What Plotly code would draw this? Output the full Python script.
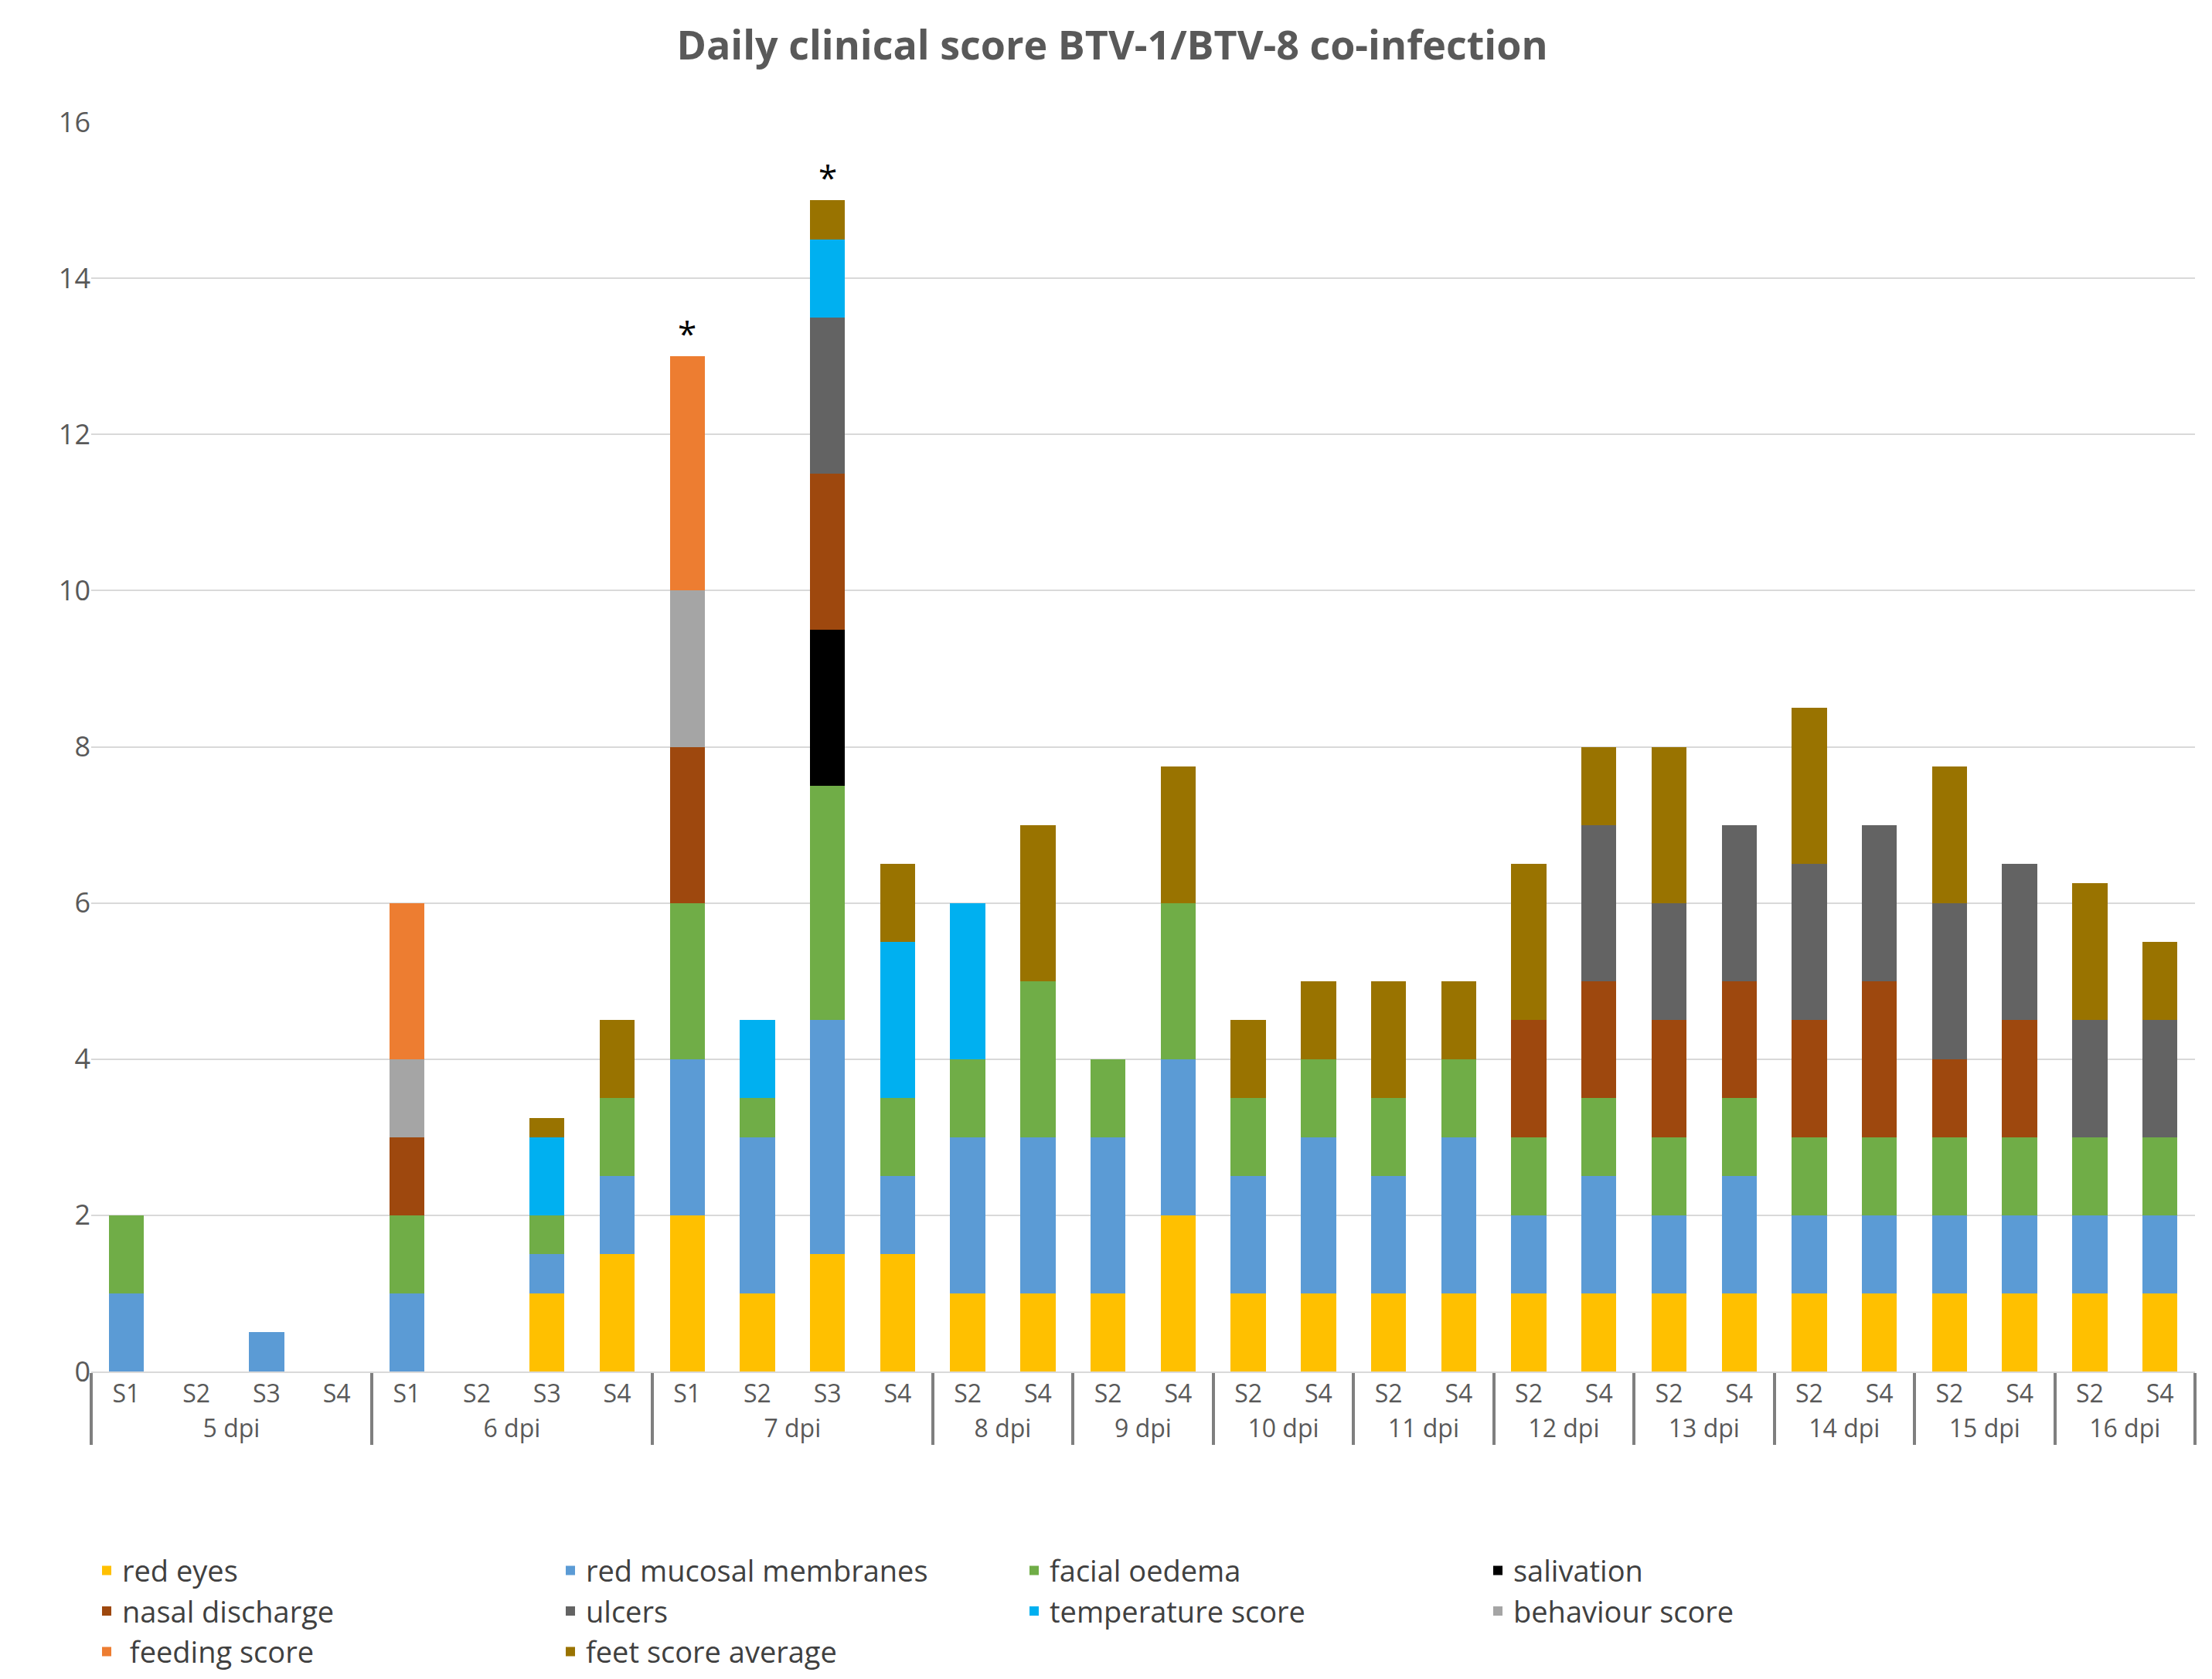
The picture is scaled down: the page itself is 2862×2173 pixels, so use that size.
import plotly.graph_objects as go

days = ["5 dpi"] * 4 + ["6 dpi"] * 4 + ["7 dpi"] * 4 + [f"{d} dpi" for d in range(8, 17) for _ in (0, 1)]
sheep = ["S1", "S2", "S3", "S4"] * 3 + ["S2", "S4"] * 9

red_eyes = [0, 0, 0, 0, 0, 0, 1, 1.5, 2, 1, 1.5, 1.5, 1, 1, 1, 2, 1, 1, 1, 1, 1, 1, 1, 1, 1, 1, 1, 1, 1, 1, 1, 1]
red_mucosal = [1, 0, 0.5, 0, 1, 0, 0.5, 1, 2, 2, 3, 1, 2, 2, 2, 2, 1.5, 2, 1.5, 2, 1, 1.5, 1, 1.5, 1, 1, 1, 1, 1, 1, 1, 1]
facial_oedema = [1, 0, 0, 0, 1, 0, 0.5, 1, 2, 0.5, 3, 1, 1, 2, 1, 2, 1, 1, 1, 1, 1, 1, 1, 1, 1, 1, 1, 1, 1, 1, 1, 1]
salivation = [0] * 10 + [2] + [0] * 21
nasal_discharge = [0, 0, 0, 0, 1, 0, 0, 0, 2, 0, 2, 0, 0, 0, 0, 0, 0, 0, 0, 0, 1.5, 1.5, 1.5, 1.5, 1.5, 2, 1, 1.5, 0, 0, 0, 0]
ulcers = [0] * 10 + [2] + [0] * 9 + [0, 2, 1.5, 2, 2, 2, 2, 2, 1.5, 1.5]
temperature = [0, 0, 0, 0, 0, 0, 1, 0, 0, 1, 1, 2, 2] + [0] * 19
behaviour = [0, 0, 0, 0, 1, 0, 0, 0, 2] + [0] * 23
feeding = [0, 0, 0, 0, 2, 0, 0, 0, 3] + [0] * 23
feet = [0, 0, 0, 0, 0, 0, 0.25, 1, 0, 0, 0.5, 1, 0, 2, 0, 1.75, 1, 1, 1.5, 1, 2, 1, 2, 0, 2, 0, 1.75, 0, 1.75, 1]

series = [
    ("red eyes", red_eyes, "#FFC000"),
    ("red mucosal membranes", red_mucosal, "#5B9BD5"),
    ("facial oedema", facial_oedema, "#70AD47"),
    ("salivation", salivation, "#000000"),
    ("nasal discharge", nasal_discharge, "#9E480E"),
    ("ulcers", ulcers, "#636363"),
    ("temperature score", temperature, "#00B0F0"),
    ("behaviour score", behaviour, "#A5A5A5"),
    (" feeding score", feeding, "#ED7D31"),
    ("feet score average", feet, "#997300"),
]

fig = go.Figure()
for name, vals, col in series:
    vals = (vals + [0] * 32)[:32]
    fig.add_trace(go.Bar(x=[days, sheep], y=vals, name=name, marker_color=col, marker_line_width=0))

# asterisks over the two highest bars
for s, top in [("S1", 13), ("S3", 15)]:
    fig.add_annotation(x=("7 dpi", s), y=top, text="*", showarrow=False, yshift=30,
                       font=dict(size=44, color="black"))

fig.update_layout(
    barmode="stack", bargap=0.5, width=2862, height=2173,
    plot_bgcolor="white", paper_bgcolor="white",
    font=dict(family="Open Sans, DejaVu Sans", size=30, color="#595959"),
    title=dict(text="<b>Daily clinical score BTV-1/BTV-8 co-infection</b>", x=0.5, y=0.985,
               font=dict(size=52, color="#595959")),
    margin=dict(l=110, r=30, t=150, b=340),
    legend=dict(orientation="h", x=0.0, y=-0.14, yanchor="top", font=dict(size=38, color="#404040"),
                entrywidth=555, entrywidthmode="pixels", traceorder="normal"),
    yaxis=dict(range=[0, 16], dtick=2, gridcolor="#D9D9D9", gridwidth=2, zeroline=False,
               tickfont=dict(size=36)),
    xaxis=dict(tickfont=dict(size=32), showdividers=True, dividercolor="#7F7F7F", dividerwidth=4,
               linecolor="#D9D9D9", linewidth=2),
)
fig.write_html("out.html")
